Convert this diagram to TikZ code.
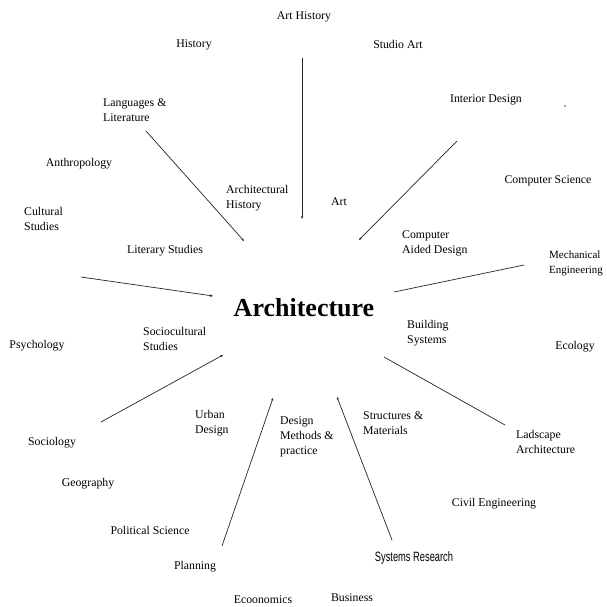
\documentclass[tikz,border=0pt]{standalone}
\usepackage{fontspec}
\setmainfont{Liberation Serif}
\newfontfamily\sysfont{Liberation Sans}
\usetikzlibrary{arrows.meta}
\begin{document}
\begin{tikzpicture}[x=1pt,y=-1pt,
  lbl/.style={inner sep=0pt,font=\fontsize{11.8}{15}\selectfont,align=left,yshift=-2pt},
  lft/.style={lbl,anchor=west},
  link/.style={draw=black!85,line width=0.7pt},
  arr/.style={link,-{Stealth[length=3pt,width=2.5pt]}}]
\useasboundingbox (0,0) rectangle (607,607);
\fill[white] (0,0) rectangle (607,607);
% centre
\node[inner sep=0pt,font=\fontsize{26}{30}\selectfont\bfseries] (arch) at (304,308) {Architecture};
% single labels
\node[lbl] (arthist) at (304,15) {Art History};
\node[lbl] (hist) at (194,43) {History};
\node[lbl] (studio) at (398,42) {Studio Art};
\node[lbl] (interior) at (486,98) {Interior Design};
\node[lbl] (anthro) at (79,162) {Anthropology};
\node[lbl] (compsci) at (548,179) {Computer Science};
\node[lbl] (art) at (339,200) {Art};
\node[lbl] (litstud) at (165,249) {Literary Studies};
\node[lbl] (psych) at (37,344) {Psychology};
\node[lbl] (ecol) at (575,345) {Ecology};
\node[lbl] (socio) at (52,441) {Sociology};
\node[lbl] (geog) at (88,482) {Geography};
\node[lbl] (civil) at (494,502) {Civil Engineering};
\node[lbl] (polsci) at (150,528) {Political Science};
\node[lbl] (plan) at (195,565) {Planning};
\node[lbl] (econ) at (263,598) {Ecoonomics};
\node[lbl] (bus) at (352,596) {Business};
\node[inner sep=0pt,font=\sysfont\fontsize{13.5}{15}\selectfont] (sysres) at (414,558) {\scalebox{0.69}[1]{Systems Research}};
% multi-line labels
\node[lft] (lang) at (103,108) {Languages \&\\Literature};
\node[lft] (archhist) at (226,196) {Architectural\\History};
\node[lft] (cult) at (24,217) {Cultural\\Studies};
\node[lft] (cad) at (402,241) {Computer\\Aided Design};
\node[lft,font=\fontsize{11}{15}\selectfont] (mech) at (549,261) {Mechanical\\Engineering};
\node[lft] (bsys) at (407,331) {Building\\Systems};
\node[lft] (scs) at (143,337) {Sociocultural\\Studies};
\node[lft] (urban) at (195,421) {Urban\\Design};
\node[lft] (dmp) at (280,435) {Design\\Methods \&\\practice};
\node[lft] (sm) at (363,421) {Structures \&\\Materials};
\node[lft] (land) at (516,440) {Ladscape\\Architecture};
% stray mark
\fill[black!35] (563.5,105) rectangle (565.5,107);
% connector end points
\coordinate (a1) at (302,58);   \coordinate (b1) at (302,219);
\coordinate (a2) at (146,131);  \coordinate (b2) at (244,241);
\coordinate (a3) at (457,141);  \coordinate (b3) at (359,240);
\coordinate (a4) at (81,277);   \coordinate (b4) at (213,296);
\coordinate (a5) at (524,265);  \coordinate (b5) at (394,292);
\coordinate (a6) at (101,422);  \coordinate (b6) at (223,355);
\coordinate (a7) at (505,425);  \coordinate (b7) at (384,357);
\coordinate (a8) at (222,546);  \coordinate (b8) at (273,398);
\coordinate (a9) at (392,540);  \coordinate (b9) at (337,397);
% connectors
\draw[arr] (a1) -- (b1);
\draw[arr] (a2) -- (b2);
\draw[arr] (a3) -- (b3);
\draw[arr] (a4) -- (b4);
\draw[link] (a5) -- (b5);
\draw[arr] (a6) -- (b6);
\draw[link] (a7) -- (b7);
\draw[arr] (a8) -- (b8);
\draw[arr] (a9) -- (b9);
\end{tikzpicture}
\end{document}
